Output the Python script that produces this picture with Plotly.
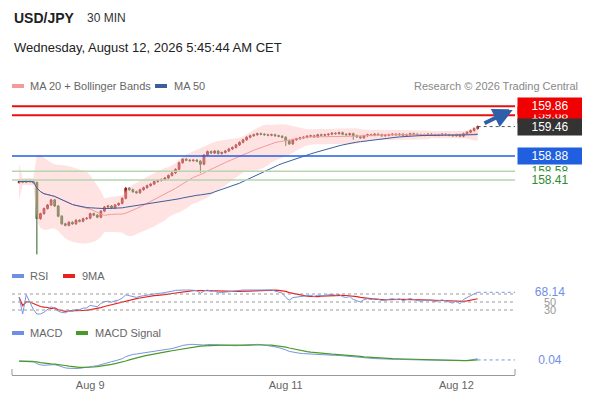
import numpy as np
import pandas as pd
import plotly.graph_objects as go

# 30 min closes, USD/JPY
closes = [
    158.38, 158.37, 158.39, 158.38, 158.36, 157.65, 157.75, 157.85, 157.92, 158.02,
    157.90, 157.70, 157.55, 157.52, 157.58, 157.55, 157.62, 157.60, 157.65, 157.66,
    157.75, 157.72, 157.68, 157.80, 157.88, 157.90, 157.86, 157.92, 157.95, 158.05,
    158.25, 158.22, 158.18, 158.16, 158.22, 158.26, 158.30, 158.33, 158.38, 158.40,
    158.42, 158.45, 158.50, 158.55, 158.62, 158.75, 158.82, 158.80, 158.79, 158.80,
    158.78, 158.72, 158.90, 158.97, 158.94, 158.98, 158.93, 158.95, 158.98, 159.02,
    159.05, 159.10, 159.15, 159.20, 159.25, 159.28, 159.30, 159.32, 159.31, 159.30,
    159.29, 159.30, 159.28, 159.27, 159.25, 159.18, 159.12, 159.20, 159.22, 159.24,
    159.25, 159.27, 159.28, 159.26, 159.30, 159.29, 159.30, 159.31, 159.33, 159.32,
    159.34, 159.31, 159.30, 159.32, 159.28, 159.26, 159.24, 159.28, 159.30, 159.29,
    159.31, 159.30, 159.28, 159.29, 159.30, 159.31, 159.30, 159.31, 159.29, 159.30,
    159.32, 159.31, 159.30, 159.29, 159.30, 159.31, 159.30, 159.29, 159.30, 159.31,
    159.30, 159.29, 159.28, 159.30, 159.27, 159.32, 159.35, 159.38, 159.42, 159.46,
]
first_open = 158.36
spike_lows = {5: 156.95, 51: 158.55, 75: 159.08, 94: 159.20}
tick_idx = [20, 75, 123]
tick_text = ['Aug 9', 'Aug 11', 'Aug 12']
resistances = [159.86, 159.68]
supports = [158.58, 158.41]
pivot = 158.88
last_price = 159.46
rsi_last = '68.14'
macd_last = '0.04'

# page body has an 8px margin, so work in window pixels and convert
W, H, OFF = 582, 392, 8


def px(x):
    return (x - OFF) / W


def py(y):
    return 1 - (y - OFF) / H


n = len(closes)
idx = np.arange(n)
c = pd.Series(closes)
o = c.shift(1).fillna(first_open)
hi = np.maximum(o, c) + 0.02
lo = np.minimum(o, c) - 0.02
for k, v in spike_lows.items():
    lo[k] = v

ma20 = c.rolling(20, min_periods=1).mean()
ma50 = c.rolling(50, min_periods=1).mean()
sd = c.rolling(20, min_periods=2).std().fillna(0.15)
bb_up = ma20 + 2 * sd + 0.05
bb_lo = ma20 - 2 * sd - 0.05

d = c.diff().fillna(0)
gain = d.clip(lower=0).ewm(alpha=1 / 14).mean()
loss = (-d.clip(upper=0)).ewm(alpha=1 / 14).mean()
rsi = 100 - 100 / (1 + gain / loss.replace(0, 1e-9))
rsi = rsi.clip(20, 80)
rsi.iloc[0] = 62
rsi_ma = rsi.rolling(9, min_periods=1).mean()
macd = c.ewm(span=12).mean() - c.ewm(span=26).mean()
signal = macd.ewm(span=9).mean()

fig = go.Figure()
fig.add_trace(go.Scatter(x=idx, y=bb_up, mode='lines', line=dict(width=0), hoverinfo='skip'))
fig.add_trace(go.Scatter(x=idx, y=bb_lo, mode='lines', line=dict(width=0), fill='tonexty',
                         fillcolor='rgba(255,190,190,0.45)', hoverinfo='skip'))
fig.add_trace(go.Scatter(x=idx, y=ma20, mode='lines', line=dict(color='#f49a9a', width=1)))
fig.add_trace(go.Scatter(x=idx, y=ma50, mode='lines', line=dict(color='#3b5f9e', width=1)))
fig.add_trace(go.Candlestick(
    x=idx, open=o, high=hi, low=lo, close=c,
    increasing=dict(fillcolor='#e0201b', line=dict(color='#8a1a16', width=1)),
    decreasing=dict(fillcolor='#3d8a2b', line=dict(color='#2c5a22', width=1)),
    whiskerwidth=0,
))
fig.add_trace(go.Scatter(x=idx, y=rsi_ma, yaxis='y2', mode='lines', line=dict(color='#e8231f', width=1.2)))
fig.add_trace(go.Scatter(x=idx, y=rsi, yaxis='y2', mode='lines', line=dict(color='#7a95e0', width=1)))
fig.add_trace(go.Scatter(x=idx, y=macd, yaxis='y3', mode='lines', line=dict(color='#7a95e0', width=1)))
fig.add_trace(go.Scatter(x=idx, y=signal, yaxis='y3', mode='lines', line=dict(color='#4a9a2a', width=1.2)))

xr = [-2, n + 9.5]
XL, XR = px(12), px(515)
shapes = []
for r in resistances:
    shapes.append(dict(type='line', xref='paper', x0=XL, x1=XR, yref='y', y0=r, y1=r,
                       line=dict(color='#e8100c', width=2)))
shapes.append(dict(type='line', xref='paper', x0=XL, x1=XR, yref='y', y0=pivot, y1=pivot,
                   line=dict(color='#1f5fe0', width=1.5)))
for s in supports:
    shapes.append(dict(type='line', xref='paper', x0=XL, x1=XR, yref='y', y0=s, y1=s,
                       line=dict(color='#b5d6b0', width=1.5)))
shapes.append(dict(type='line', x0=n - 1, x1=xr[1], yref='y', y0=last_price, y1=last_price,
                   line=dict(color='#555', width=1, dash='dot')))
for lv in [70, 50, 30]:
    shapes.append(dict(type='line', x0=xr[0], x1=xr[1], yref='y2', y0=lv, y1=lv,
                       line=dict(color='#999', width=1, dash='dot')))
shapes.append(dict(type='line', x0=n - 1, x1=xr[1], yref='y2', y0=rsi.iloc[-1], y1=rsi.iloc[-1],
                   line=dict(color='#7a95e0', width=1, dash='dot')))
shapes.append(dict(type='line', x0=n - 1, x1=xr[1], yref='y3', y0=signal.iloc[-1], y1=signal.iloc[-1],
                   line=dict(color='#7a95e0', width=1, dash='dot')))
# axis end ticks
for xe in [12, 515]:
    shapes.append(dict(type='line', xref='paper', yref='paper', x0=px(xe), x1=px(xe),
                       y0=py(375), y1=py(369), line=dict(color='#999', width=1)))
# legend swatches
for x0, col, y in [(12, '#f49a9a', 86), (155, '#3b5f9e', 86), (12, '#6f8fe6', 276),
                   (63, '#e8231f', 276), (12, '#6f8fe6', 333), (76, '#4a9a2a', 333)]:
    shapes.append(dict(type='rect', xref='paper', yref='paper', x0=px(x0), x1=px(x0 + 12),
                       y0=py(y + 2), y1=py(y - 2), fillcolor=col, line=dict(width=0)))

F = 'Liberation Sans, Arial'
ann = [
    dict(x=px(12), y=py(18), text='<b>USD/JPY</b>', font=dict(size=14, color='#222')),
    dict(x=px(85), y=py(18), text='30 MIN', font=dict(size=12, color='#333')),
    dict(x=px(12), y=py(47), text='Wednesday, August 12, 2026 5:45:44 AM CET', font=dict(size=13, color='#222')),
    dict(x=px(28), y=py(86), text='MA 20 + Bollinger Bands', font=dict(size=11, color='#666')),
    dict(x=px(172), y=py(86), text='MA 50', font=dict(size=11, color='#666')),
    dict(x=px(580), y=py(86), text='Research © 2026 Trading Central', xanchor='right',
         font=dict(size=11, color='#888')),
    dict(x=px(28), y=py(276), text='RSI', font=dict(size=11, color='#666')),
    dict(x=px(80), y=py(276), text='9MA', font=dict(size=11, color='#666')),
    dict(x=px(28), y=py(333), text='MACD', font=dict(size=11, color='#666')),
    dict(x=px(93), y=py(333), text='MACD Signal', font=dict(size=11, color='#666')),
]
for a in ann:
    a.update(xref='paper', yref='paper', xanchor=a.get('xanchor', 'left'), yanchor='middle', showarrow=False)
    a['font']['family'] = F


def tag(y, yref, text, bg, fg='white', size=12):
    a = dict(xref='paper', x=px(517), yref=yref, y=y, text=text, xanchor='left', yanchor='middle',
             showarrow=False, font=dict(family=F, size=size, color=fg), width=62,
             align='center', borderpad=1)
    if bg:
        a['bgcolor'] = bg
    return a


ann += [
    tag(159.68, 'y', '159.68', '#f00000'),
    tag(last_price, 'y', '159.46', '#333333'),
    tag(159.86, 'y', '159.86', '#f00000'),
    tag(pivot, 'y', '158.88', '#1f5fe0'),
    tag(supports[0], 'y', '158.58', None, '#2e8b2e'),
    tag(supports[1], 'y', '158.41', 'white', '#2e8b2e'),
    tag(30, 'y2', '30', None, '#999', 11),
    tag(50, 'y2', '50', None, '#999', 11),
    tag(float(rsi.iloc[-1]), 'y2', rsi_last, None, '#6f8fe6'),
    tag(float(signal.iloc[-1]), 'y3', macd_last, None, '#6f8fe6'),
    dict(x=n + 9, y=159.80, ax=n + 0.5, ay=last_price + 0.05, xref='x', yref='y', axref='x', ayref='y',
         showarrow=True, arrowhead=2, arrowsize=1, arrowwidth=4, arrowcolor='#2f5fa8', text=''),
]

fig.update_layout(
    width=W, height=H, margin=dict(l=0, r=0, t=0, b=0),
    paper_bgcolor='white', plot_bgcolor='white', showlegend=False,
    font=dict(family=F, size=11, color='#666'),
    xaxis=dict(domain=[XL, XR], range=xr, rangeslider=dict(visible=False), anchor='free',
               position=py(375), showline=True, linecolor='#999', showgrid=False,
               tickvals=tick_idx, ticktext=tick_text, ticks='', zeroline=False),
    yaxis=dict(domain=[py(262), py(95)], range=[156.80, 160.08], visible=False),
    yaxis2=dict(domain=[py(316), py(286)], range=[15, 90], visible=False),
    yaxis3=dict(domain=[py(370), py(343)], visible=False),
    shapes=shapes, annotations=ann,
)
fig.write_html('out.html')
